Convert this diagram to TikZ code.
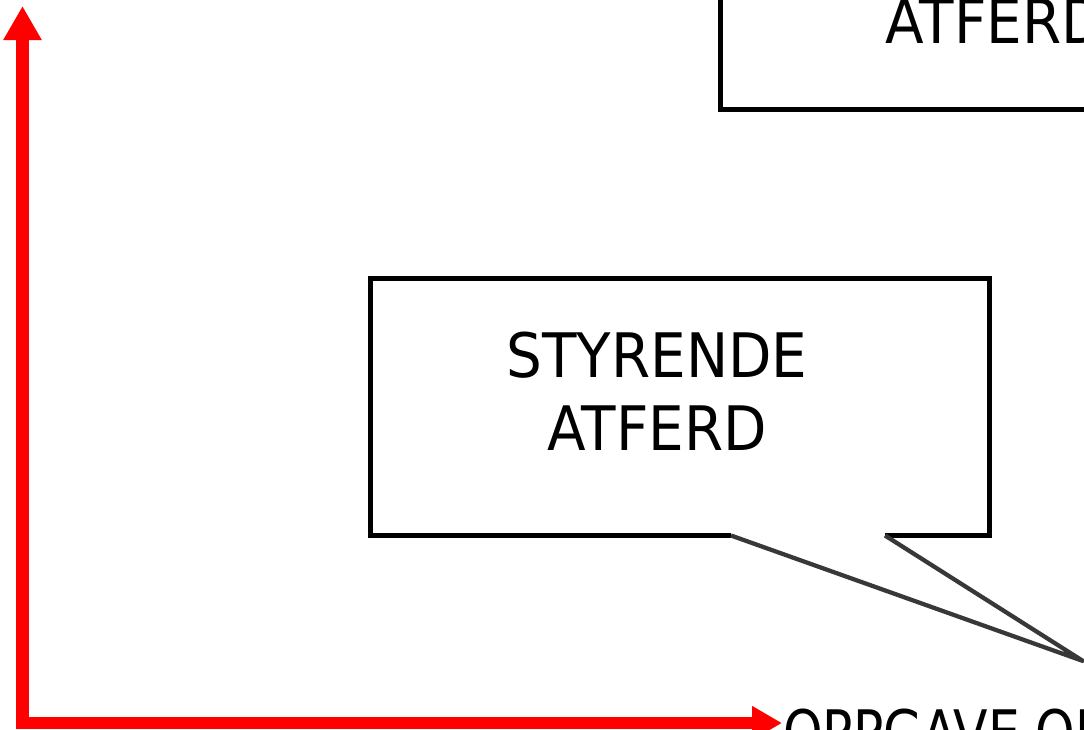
\documentclass[tikz,border=0pt]{standalone}
\usepackage{fontspec}
\setmainfont[FakeStretch=0.92]{DejaVu Sans}
\newfontfamily\narrowlbl[FakeStretch=0.82]{DejaVu Sans}
\usetikzlibrary{arrows.meta}
\begin{document}
\begin{tikzpicture}[x=0.75pt,y=-0.75pt,
  axisline/.style={draw=red, line width=9.5pt},
  boxline/.style={draw=black, line width=3.4pt, line join=miter},
  tailline/.style={draw=black!78, line width=3.2pt, line join=round},
  lbl/.style={font=\fontsize{46}{55}\selectfont, inner sep=0pt, align=center, text=black}]
\useasboundingbox (0,0) rectangle (1084,729);
\clip (0,0) rectangle (1084,729);
\fill[white] (0,0) rectangle (1084,729);

% axes
\coordinate (O) at (22.5,723);
\coordinate (ytip) at (22.5,6);
\coordinate (xtip) at (782,723);
\draw[axisline, {Triangle[length=25.5pt,width=27pt]}-{Triangle[length=22.5pt,width=24pt]}] (ytip) -- (O) -- (xtip);
\node[lbl, font=\narrowlbl\fontsize{46}{55}\selectfont, anchor=base west] (xlabel) at (783,754) {OPPGAVE OR};

% top box (partly outside)
\coordinate (tb1) at (720.5,-20);
\coordinate (tb2) at (720.5,109.5);
\coordinate (tb3) at (1100,109.5);
\draw[boxline] (tb1) -- (tb2) -- (tb3);
\node[lbl, anchor=base west] (toplabel) at (885,43) {ATFERD};

% speech bubble
\coordinate (b1) at (731,535.5);
\coordinate (b2) at (370.5,535.5);
\coordinate (b3) at (370.5,278.5);
\coordinate (b4) at (989.5,278.5);
\coordinate (b5) at (989.5,535.5);
\coordinate (b6) at (885,535.5);
\coordinate (tip) at (1083,661);
\draw[boxline] (b1) -- (b2) -- (b3) -- (b4) -- (b5) -- (b6);
\draw[tailline] (b1) -- (tip) -- (b6);
\node[lbl] (styr) at (657,391) {STYRENDE\\ATFERD};
\end{tikzpicture}
\end{document}
